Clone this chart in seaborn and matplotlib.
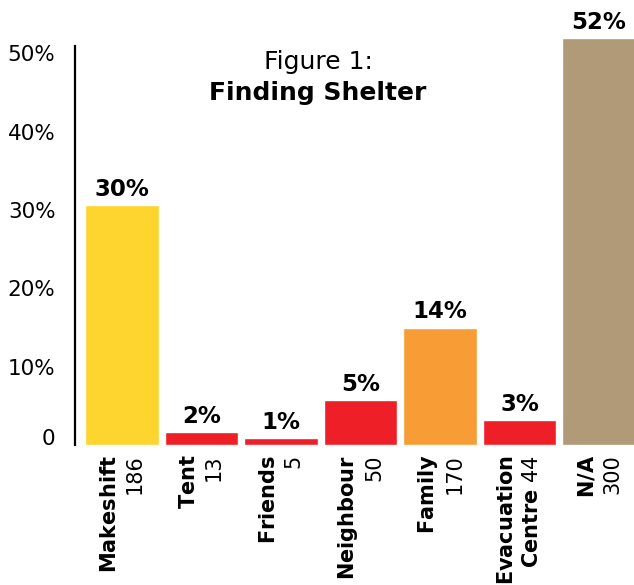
import matplotlib
matplotlib.use("Agg")
import matplotlib.pyplot as plt
import matplotlib.transforms as mtransforms
import pandas as pd
import seaborn as sns

categories = ["Makeshift", "Tent", "Friends", "Neighbour", "Family", "Evacuation\nCentre", "N/A"]
counts = [186, 13, 5, 50, 170, 44, 300]
shares = [30.6, 1.6, 0.9, 5.7, 15.0, 3.2, 52.0]
share_labels = ["30%", "2%", "1%", "5%", "14%", "3%", "52%"]
colors = ["#FED42E", "#EE1F26", "#EE1F26", "#EE1F26", "#F89C35", "#EE1F26", "#B09A77"]
yticks = [0, 10, 20, 30, 40, 50]
ytick_labels = ["0", "10%", "20%", "30%", "40%", "50%"]

sns.set_style("white")
plt.rcParams["font.family"] = ["DejaVu Sans"]
plt.rcParams["mathtext.fontset"] = "dejavusans"
plt.rcParams["text.color"] = "black"
plt.rcParams["xtick.color"] = "black"
plt.rcParams["ytick.color"] = "black"

df = pd.DataFrame({"category": categories, "share": shares})

fig = plt.figure(figsize=(6.34, 5.85), dpi=100)
ax = fig.add_axes([75 / 634, 140 / 585, 1 - 75 / 634, 438.5 / 585])

sns.barplot(data=df, x="category", y="share", hue="category", palette=colors,
            legend=False, width=0.925, saturation=1, ax=ax)

for cont, lab in zip(ax.containers, share_labels):
    ax.bar_label(cont, labels=[lab], padding=3, fontsize=16.5, fontweight="bold", color="black")

ax.set_xlim(-0.59, 6.44)
ax.set_ylim(0, 56)
ax.set_xlabel("")
ax.set_ylabel("")

# tick labels: bold category name, count in normal weight
xlabels = []
for cat, n in zip(categories, counts):
    lines = cat.split("\n")
    if len(lines) == 1:
        xlabels.append("$\\bf{" + lines[0] + "}$\n" + str(n))
    else:
        xlabels.append("$\\bf{" + lines[0] + "}$\n$\\bf{" + lines[1] + "}$ " + str(n))
ax.set_xticks(range(len(categories)))
ax.set_xticklabels(xlabels, rotation=90, fontsize=15, va="top", ha="center",
                   multialignment="right", linespacing=1.3)
ax.tick_params(axis="x", length=0, pad=7)

ax.set_yticks(yticks)
ax.set_yticklabels(ytick_labels, fontsize=15.5)
ax.tick_params(axis="y", length=0, pad=14)
lab0 = ax.get_yticklabels()[0]
lab0.set_transform(lab0.get_transform() + mtransforms.ScaledTranslation(0, 6 / 72, fig.dpi_scale_trans))

for s in ["top", "right", "bottom"]:
    ax.spines[s].set_visible(False)
ax.spines["left"].set_linewidth(1.6)
ax.spines["left"].set_color("black")
ax.spines["left"].set_bounds(0, 51)

fig.text(318 / 634, 1 - 62 / 585, "Figure 1:", ha="center", va="center", fontsize=18)
fig.text(318 / 634, 1 - 93 / 585, "Finding Shelter", ha="center", va="center",
         fontsize=18, fontweight="bold")

fig.savefig("out.png", dpi=100)
